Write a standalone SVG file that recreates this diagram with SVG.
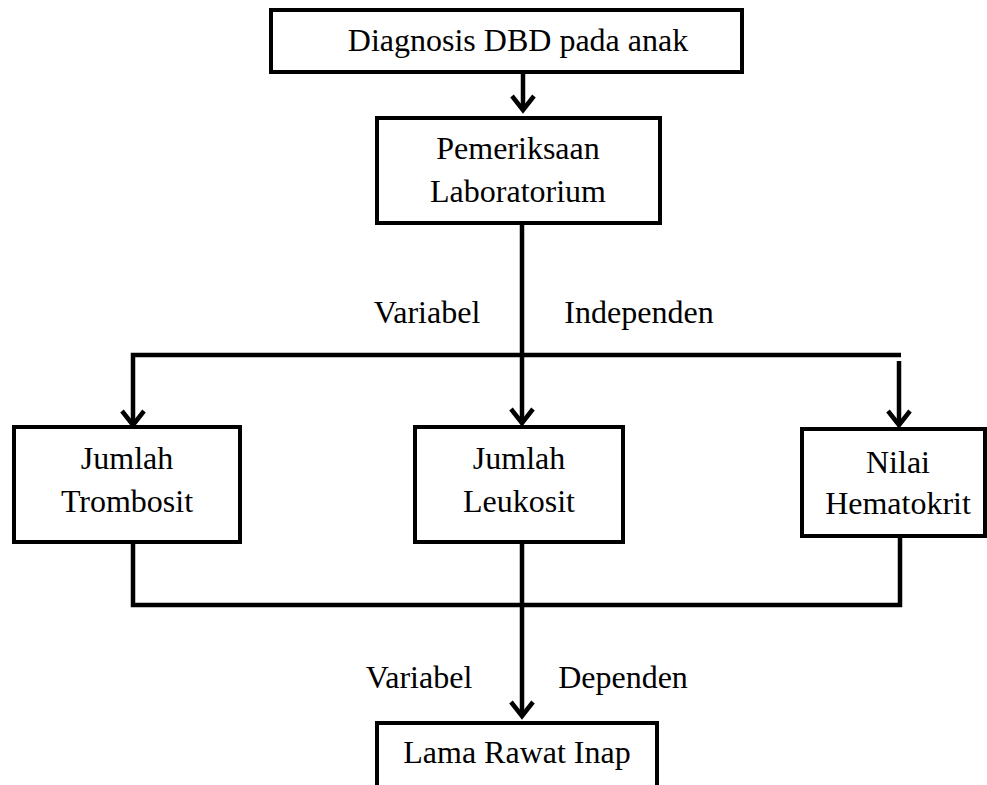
<svg xmlns="http://www.w3.org/2000/svg" width="987" height="785" viewBox="0 0 987 785">
<style>
.box{fill:#fff;stroke:#000;stroke-width:4}
.ln{fill:none;stroke:#000;stroke-width:4.5}
.ah{fill:none;stroke:#000;stroke-width:4.5;stroke-linejoin:miter}
text{font-family:"Liberation Serif","Times New Roman",serif;font-size:32px;fill:#000;text-anchor:middle}
</style>
<rect width="987" height="785" fill="#fff"/>
<g id="connectors">
<path class="ln" d="M523,72 V110"/>
<path class="ah" d="M512,96 L523,110 L534,96"/>
<path class="ln" d="M522,223 V423"/>
<path class="ah" d="M511,409 L522,423 L533,409"/>
<path class="ln" d="M133,425 V355 H901"/>
<path class="ah" d="M122,411 L133,425 L144,411"/>
<path class="ln" d="M899,361 V425"/>
<path class="ah" d="M888,411 L899,425 L910,411"/>
<path class="ln" d="M133,542 V605 H900 V538"/>
<path class="ln" d="M522,542 V716"/>
<path class="ah" d="M511,702 L522,716 L533,702"/>
</g>
<g id="n1"><rect class="box" x="271" y="10" width="471" height="62"/><text x="518" y="51">Diagnosis DBD pada anak</text></g>
<g id="n2"><rect class="box" x="377" y="118" width="283" height="105"/><text x="518" y="159">Pemeriksaan</text><text x="518" y="202">Laboratorium</text></g>
<g id="lbl1"><text x="427" y="323">Variabel</text><text x="639" y="323">Independen</text></g>
<g id="n3"><rect class="box" x="14" y="427" width="226" height="115"/><text x="127" y="469">Jumlah</text><text x="127" y="512">Trombosit</text></g>
<g id="n4"><rect class="box" x="415" y="427" width="208" height="115"/><text x="519" y="469">Jumlah</text><text x="519" y="512">Leukosit</text></g>
<g id="n5"><rect class="box" x="802" y="429" width="183" height="107"/><text x="898" y="473">Nilai</text><text x="898" y="514">Hematokrit</text></g>
<g id="lbl2"><text x="419" y="688">Variabel</text><text x="623" y="688">Dependen</text></g>
<g id="n6"><rect class="box" x="377" y="723" width="280" height="80"/><text x="517" y="763">Lama Rawat Inap</text></g>
</svg>
